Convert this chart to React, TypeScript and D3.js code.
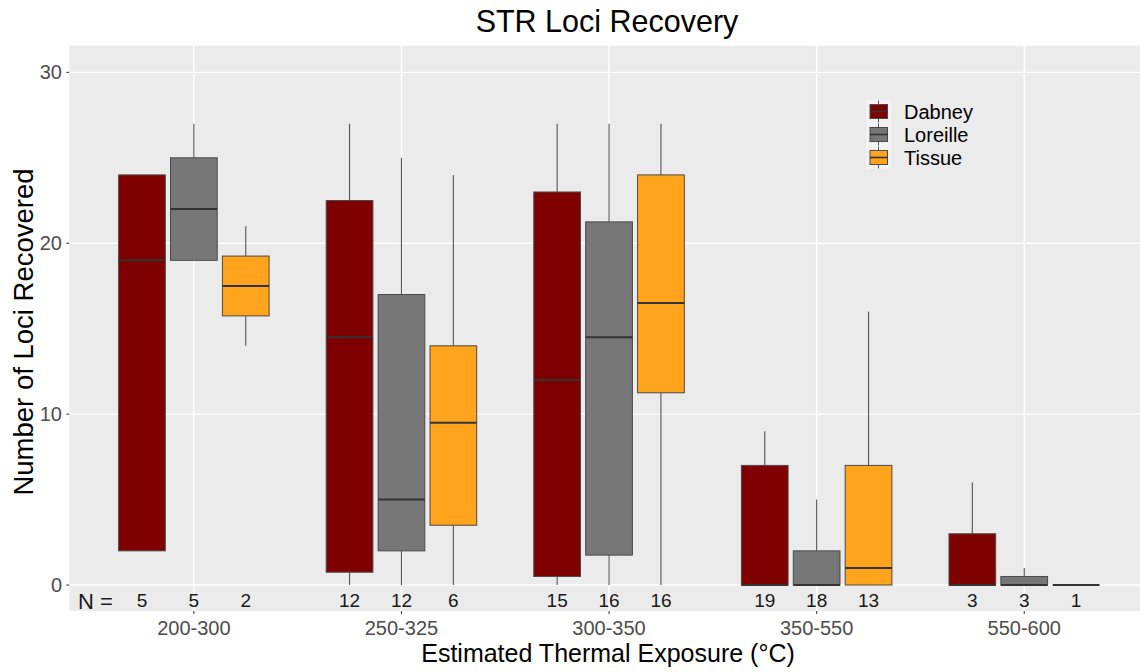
import React from "react";
import * as d3 from "d3";

// Temperature bins on the x axis
const categories = ["200-300", "250-325", "300-350", "350-550", "550-600"];
const groups = ["Dabney", "Loreille", "Tissue"];
const groupColors = ["#7f0000", "#777777", "#ffa41c"];

// Five-number summaries per bin: [min, q1, median, q3, max]
const dabneyStats = [
  [2, 2, 19, 24, 24],
  [0, 0.75, 14.5, 22.5, 27],
  [0, 0.5, 12, 23, 27],
  [0, 0, 0, 7, 9],
  [0, 0, 0, 3, 6],
];
const loreilleStats = [
  [19, 19, 22, 25, 27],
  [0, 2, 5, 17, 25],
  [0, 1.75, 14.5, 21.25, 27],
  [0, 0, 0, 2, 5],
  [0, 0, 0, 0.5, 1],
];
const tissueStats = [
  [14, 15.75, 17.5, 19.25, 21],
  [0, 3.5, 9.5, 14, 24],
  [0, 11.25, 16.5, 24, 27],
  [0, 0, 1, 7, 16],
  [0, 0, 0, 0, 0],
];

// Sample counts shown along the bottom of the panel
const dabneyN = [5, 12, 15, 19, 3];
const loreilleN = [5, 12, 16, 18, 3];
const tissueN = [2, 6, 16, 13, 1];

const yTicks = [0, 10, 20, 30];

const W = 1140;
const H = 672;
const panel = { left: 69.3, top: 45.7, right: 1148.8, bottom: 611 };
const FONT = "'Liberation Sans', Arial, sans-serif";

export default function App() {
  const x = d3
    .scalePoint<string>()
    .domain(categories)
    .range([panel.left, panel.right])
    .padding(0.6);
  const step = x.step();
  const y = d3.scaleLinear().domain([-1.52, 31.56]).range([panel.bottom, panel.top]);

  const stats = [dabneyStats, loreilleStats, tissueStats];
  const counts = [dabneyN, loreilleN, tissueN];
  const dodge = 0.25 * step;
  const boxW = 0.225 * step;

  const legendRows = groups.map((g, i) => ({ g, i, cy: 111.5 + i * 23 }));

  return (
    <svg width={W} height={H} style={{ display: "block", position: "absolute", left: 0, top: 0 }}>
      <rect width={W} height={H} fill="#ffffff" />
      <rect
        x={panel.left}
        y={panel.top}
        width={panel.right - panel.left}
        height={panel.bottom - panel.top}
        fill="#ebebeb"
      />
      {yTicks.map((t) => (
        <line key={"gy" + t} x1={panel.left} x2={panel.right} y1={y(t)} y2={y(t)} stroke="#ffffff" strokeWidth={1.4} />
      ))}
      {categories.map((c) => (
        <line key={"gx" + c} x1={x(c)} x2={x(c)} y1={panel.top} y2={panel.bottom} stroke="#ffffff" strokeWidth={1.4} />
      ))}

      {/* boxes */}
      {categories.map((c, ci) =>
        groups.map((g, gi) => {
          const [mn, q1, md, q3, mx] = stats[gi][ci];
          const cx = (x(c) as number) + (gi - 1) * dodge;
          return (
            <g key={c + g}>
              <line x1={cx} x2={cx} y1={y(q3)} y2={y(mx)} stroke="#555555" strokeWidth={1.1} />
              <line x1={cx} x2={cx} y1={y(q1)} y2={y(mn)} stroke="#555555" strokeWidth={1.1} />
              <rect
                x={cx - boxW / 2}
                y={y(q3)}
                width={boxW}
                height={Math.max(0, y(q1) - y(q3))}
                fill={groupColors[gi]}
                stroke="#4a4a4a"
                strokeWidth={1}
              />
              <line x1={cx - boxW / 2} x2={cx + boxW / 2} y1={y(md)} y2={y(md)} stroke="#333333" strokeWidth={2} />
            </g>
          );
        })
      )}

      {/* sample counts */}
      <text x={78} y={609} fontFamily={FONT} fontSize={22} fill="#1a1a1a">
        N =
      </text>
      {categories.map((c, ci) =>
        groups.map((g, gi) => (
          <text
            key={"n" + c + g}
            x={(x(c) as number) + (gi - 1) * dodge}
            y={607}
            textAnchor="middle"
            fontFamily={FONT}
            fontSize={19}
            fill="#1a1a1a"
          >
            {counts[gi][ci]}
          </text>
        ))
      )}

      {/* y axis */}
      {yTicks.map((t) => (
        <g key={"yt" + t}>
          <line x1={panel.left - 3} x2={panel.left} y1={y(t)} y2={y(t)} stroke="#333333" strokeWidth={1} />
          <text x={62} y={y(t) + 7} textAnchor="end" fontFamily={FONT} fontSize={20} fill="#4d4d4d">
            {t}
          </text>
        </g>
      ))}
      {/* x axis */}
      {categories.map((c) => (
        <g key={"xt" + c}>
          <line x1={x(c)} x2={x(c)} y1={panel.bottom} y2={panel.bottom + 3} stroke="#333333" strokeWidth={1} />
          <text x={x(c)} y={634.5} textAnchor="middle" fontFamily={FONT} fontSize={20} fill="#4d4d4d">
            {c}
          </text>
        </g>
      ))}

      {/* legend */}
      <rect x={866} y={100} width={25} height={69} fill="#f2f2f2" />
      {legendRows.map(({ g, i, cy }) => (
        <g key={"lg" + g}>
          <line x1={878.5} x2={878.5} y1={cy - 11} y2={cy + 11} stroke="#555555" strokeWidth={1} />
          <rect x={870} y={cy - 7} width={17.5} height={14} fill={groupColors[i]} stroke="#4a4a4a" strokeWidth={1} />
          <line x1={870} x2={887.5} y1={cy} y2={cy} stroke="#333333" strokeWidth={1.6} />
          <text x={904} y={cy + 7} fontFamily={FONT} fontSize={20} fill="#000000">
            {g}
          </text>
        </g>
      ))}

      {/* titles */}
      <text x={607} y={32} textAnchor="middle" fontFamily={FONT} fontSize={30.5} fill="#000000">
        STR Loci Recovery
      </text>
      <text x={608} y={662} textAnchor="middle" fontFamily={FONT} fontSize={25} fill="#000000">
        Estimated Thermal Exposure (°C)
      </text>
      <text
        transform="translate(33,332) rotate(-90)"
        textAnchor="middle"
        fontFamily={FONT}
        fontSize={27.5}
        fill="#000000"
      >
        Number of Loci Recovered
      </text>
    </svg>
  );
}
